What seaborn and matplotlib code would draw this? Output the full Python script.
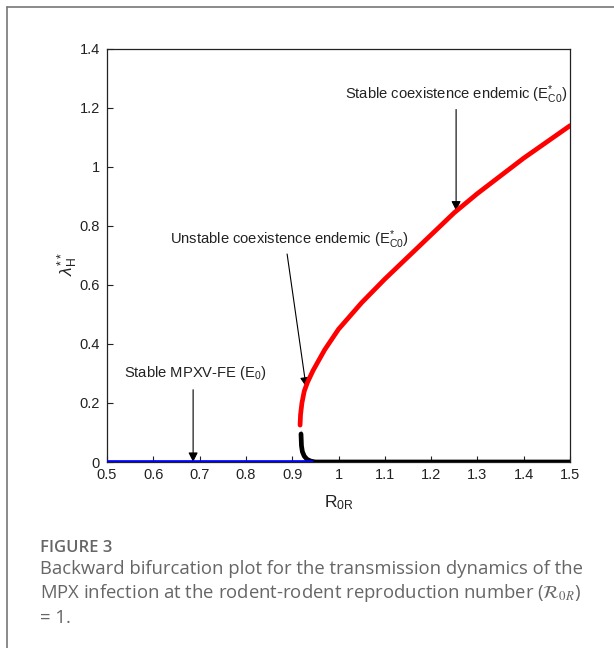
import matplotlib
matplotlib.use("Agg")
import matplotlib.pyplot as plt
import seaborn as sns
import pandas as pd
from matplotlib.lines import Line2D

# ---- data ----
dfe_R = [0.50, 0.60, 0.70, 0.80, 0.90, 0.94]
dfe_L = [0.0, 0.0, 0.0, 0.0, 0.0, 0.0]

unstable_R = [0.919, 0.919, 0.920, 0.922, 0.926, 0.932, 0.940, 0.950, 1.00, 1.10, 1.20, 1.30, 1.40, 1.50]
unstable_L = [0.110, 0.080, 0.055, 0.035, 0.020, 0.009, 0.003, 0.0, 0.0, 0.0, 0.0, 0.0, 0.0, 0.0]

stable_R = [0.917, 0.918, 0.921, 0.926, 0.933, 0.945, 0.970, 1.00, 1.05, 1.10, 1.15, 1.20, 1.25, 1.30, 1.35, 1.40, 1.45, 1.50]
stable_L = [0.125, 0.160, 0.200, 0.240, 0.270, 0.310, 0.380, 0.450, 0.540, 0.620, 0.695, 0.770, 0.845, 0.910, 0.970, 1.030, 1.085, 1.140]

x_ticks = [0.5, 0.6, 0.7, 0.8, 0.9, 1.0, 1.1, 1.2, 1.3, 1.4, 1.5]
x_tick_labels = ["0.5", "0.6", "0.7", "0.8", "0.9", "1", "1.1", "1.2", "1.3", "1.4", "1.5"]
y_ticks = [0, 0.2, 0.4, 0.6, 0.8, 1.0, 1.2, 1.4]
y_tick_labels = ["0", "0.2", "0.4", "0.6", "0.8", "1", "1.2", "1.4"]

sns.set_theme(style="white")
plt.rcParams['font.family'] = ['Liberation Sans', 'DejaVu Sans']
plt.rcParams['mathtext.fontset'] = 'custom'
plt.rcParams['mathtext.rm'] = 'Liberation Sans'
plt.rcParams['mathtext.it'] = 'Liberation Sans:italic'

fig = plt.figure(figsize=(6.14, 6.48), dpi=100)
W, H = 614, 648
ax = fig.add_axes([107 / W, 1 - 462 / H, (570 - 107) / W, (462 - 49) / H])

df_blue = pd.DataFrame({"R": dfe_R, "L": dfe_L})
df_black = pd.DataFrame({"R": unstable_R, "L": unstable_L})
df_red = pd.DataFrame({"R": stable_R, "L": stable_L})

sns.lineplot(data=df_black, x="R", y="L", sort=False, color="black", lw=3.4, ax=ax, zorder=3)
sns.lineplot(data=df_blue, x="R", y="L", sort=False, color="#0000ff", lw=3.4, ax=ax, zorder=4)
sns.lineplot(data=df_red, x="R", y="L", sort=False, color="#ff0000", lw=3.4, ax=ax, zorder=4)

ax.set_xlim(0.5, 1.5)
ax.set_ylim(0, 1.4)
ax.set_xticks(x_ticks)
ax.set_xticklabels(x_tick_labels)
ax.set_yticks(y_ticks)
ax.set_yticklabels(y_tick_labels)
ax.tick_params(axis='both', direction='in', length=4, width=0.8, labelsize=10.5,
               colors='#222222', bottom=True, left=True, top=False, right=False)
ax.tick_params(axis='x', pad=4.5)
ax.tick_params(axis='y', pad=5)
for s in ax.spines.values():
    s.set_color('#222222')
    s.set_linewidth(0.9)

ax.set_xlabel(r'R$_{\mathrm{0R}}$', fontsize=12.5, color='#222222', labelpad=8)
ax.set_ylabel(r'$\lambda^{**}_{\mathrm{H}}$', fontsize=12.5, color='#222222')
ax.yaxis.set_label_coords(-0.058, 0.48)

arrowprops = dict(arrowstyle='-|>', color='black', lw=0.8, mutation_scale=14,
                  shrinkA=0, shrinkB=0)
ax.annotate('', xy=(1.254, 0.852), xytext=(1.254, 1.195), arrowprops=arrowprops)
ax.text(1.013, 1.245, r'Stable coexistence endemic (E$^{*}_{\mathrm{C0}}$)', fontsize=10.6,
        color='#222222', va='center', ha='left')
ax.annotate('', xy=(0.930, 0.255), xytext=(0.889, 0.705), arrowprops=arrowprops)
ax.text(0.635, 0.755, r'Unstable coexistence endemic (E$^{*}_{\mathrm{C0}}$)', fontsize=10.6,
        color='#222222', va='center', ha='left')
ax.annotate('', xy=(0.686, 0.0), xytext=(0.686, 0.245), arrowprops=arrowprops)
ax.text(0.537, 0.30, r'Stable MPXV-FE (E$_{\mathrm{0}}$)', fontsize=10.6,
        color='#222222', va='center', ha='left')

# outer frame (left and top lines)
fig.add_artist(Line2D([7 / W, 7 / W], [0, 1 - 7 / H], transform=fig.transFigure, color='#777777', lw=1.2))
fig.add_artist(Line2D([7 / W, 1], [1 - 7 / H, 1 - 7 / H], transform=fig.transFigure, color='#777777', lw=1.2))

cap_font = ['Open Sans', 'DejaVu Sans']
fig.text(40 / W, 1 - 548 / H, 'FIGURE 3', family=cap_font, fontsize=12, color='#666666',
         va='center', ha='left', fontweight='semibold')
cap_lines = ['Backward bifurcation plot for the transmission dynamics of the',
             r'MPX infection at the rodent-rodent reproduction number ($\mathcal{R}_{0R}$)',
             '= 1.']
for i, t in enumerate(cap_lines):
    fig.text(40 / W, 1 - (569 + 24.5 * i) / H, t, family=cap_font, fontsize=13.3,
             color='#666666', va='center', ha='left', math_fontfamily='stix')

fig.savefig('out.png', dpi=100)
